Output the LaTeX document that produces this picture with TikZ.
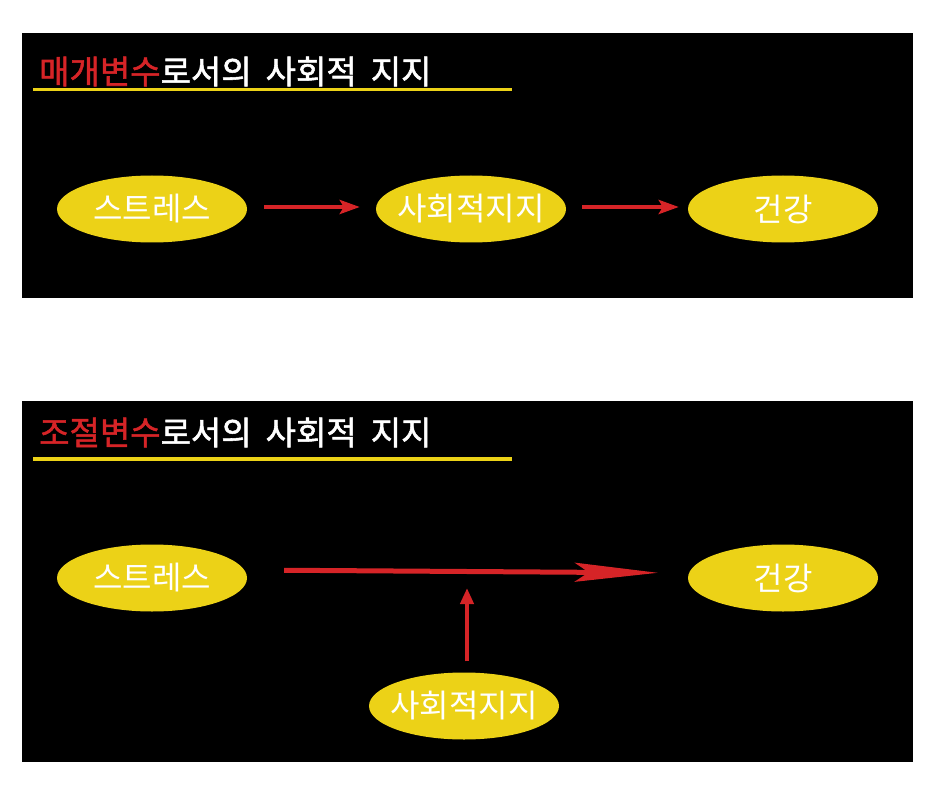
\documentclass[tikz,border=0pt]{standalone}
\usepackage{fontspec}
\newfontfamily\krfont{Noto Sans CJK KR}
\newfontfamily\krtitle[FakeBold=1.6]{Noto Sans CJK KR}
\usetikzlibrary{shapes.geometric,arrows.meta}
\definecolor{PNcrna}{HTML}{000000}
\definecolor{PNzuta}{HTML}{ECD217}
\definecolor{PNcrvena}{HTML}{D62427}
\newcommand{\razmak}{\hspace{14pt}}
\tikzset{
  varnode/.style={ellipse,fill=PNzuta,text=white,inner xsep=-8pt,inner ysep=0pt,minimum width=190,minimum height=67,font=\krfont\fontsize{32}{34}\selectfont},
  naslov/.style={anchor=west,inner sep=0pt,text=white,font=\krtitle\fontsize{33}{35}\selectfont},
  strelica/.style={PNcrvena,line width=4,-{Stealth[length=20,width=14,inset=4]}}
}
\begin{document}
\begin{tikzpicture}[x=1pt,y=-1pt]
\useasboundingbox (0,0) rectangle (939,786);
\fill[white] (0,0) rectangle (939,786);
\fill[PNcrna] (22,33) rectangle (913,298);
\fill[PNcrna] (22,401) rectangle (913,762);
% gornji okvir
\node[naslov] (t1) at (39,71.5) {\textcolor{PNcrvena}{매개변수}로서의\razmak 사회적\razmak 지지};
\fill[PNzuta] (33,88) rectangle (512,91.5);
\node[varnode] (s1) at (152,209) {스트레스};
\node[varnode] (m1) at (471,209) {사회적지지};
\node[varnode] (h1) at (783,209) {건강};
\draw[strelica,shorten <=17,shorten >=16] ([yshift=2]s1.east) -- ([yshift=2]m1.west);
\draw[strelica,shorten <=16,shorten >=9] ([yshift=2]m1.east) -- ([yshift=2]h1.west);
% donji okvir
\node[naslov] (t2) at (39,432.5) {\textcolor{PNcrvena}{조절변수}로서의\razmak 사회적\razmak 지지};
\fill[PNzuta] (33,457) rectangle (512,461);
\node[varnode] (s2) at (152,578) {스트레스};
\node[varnode] (h2) at (783,578) {건강};
\node[varnode] (m2) at (464,706) {사회적지지};
\coordinate (sred) at (467,588);
\draw[PNcrvena,line width=5,-{Stealth[length=83,width=19,inset=14]},shorten <=37,shorten >=30] ([yshift=8]s2.east) -- ([yshift=5]h2.west);
\draw[PNcrvena,line width=4,-{Triangle[length=16,width=13]},shorten <=11] (m2.north -| sred) -- (sred);
\end{tikzpicture}
\end{document}
